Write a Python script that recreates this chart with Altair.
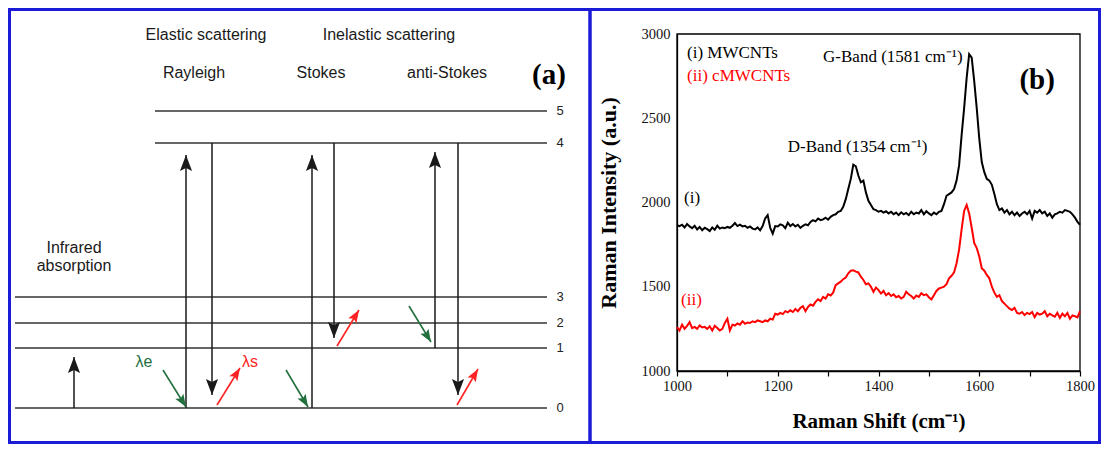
import math
import altair as alt
import pandas as pd

SANS = "Liberation Sans"
SERIF = "Liberation Serif"

# ---------------- Panel (b): Raman spectra ----------------
raman_shift = list(range(1000, 1805, 5))

mwcnt_intensity = [
    1865, 1860, 1868, 1852, 1872, 1858, 1848, 1862, 1840, 1855,
    1835, 1850, 1842, 1830, 1852, 1838, 1862, 1845, 1852, 1848,
    1855, 1850, 1862, 1878, 1860, 1868, 1858, 1862, 1850, 1858,
    1845, 1840, 1852, 1835, 1860, 1905, 1925, 1850, 1815, 1860,
    1858, 1870, 1865, 1848, 1880, 1860, 1872, 1858, 1868, 1850,
    1862, 1870, 1865, 1885, 1895, 1888, 1905, 1895, 1900, 1910,
    1898, 1915, 1925, 1930, 1945, 1950, 1975, 2020, 2080, 2140,
    2225, 2215, 2160, 2120, 2130, 2060, 2010, 1985, 1960, 1955,
    1945, 1950, 1940, 1948, 1935, 1945, 1930, 1940, 1925, 1942,
    1930, 1938, 1925, 1945, 1930, 1940, 1935, 1955, 1930, 1948,
    1935, 1925, 1940, 1930, 1945, 1950, 1990, 2040, 2050, 2060,
    2080, 2130, 2220, 2400, 2560, 2740, 2880, 2860, 2720, 2560,
    2380, 2240, 2180, 2140, 2130, 2105, 2050, 1990, 1955, 1965,
    1940, 1955, 1930, 1945, 1925, 1940, 1920, 1935, 1945, 1930,
    1950, 1905, 1950, 1940, 1955, 1935, 1945, 1920, 1935, 1910,
    1930, 1935, 1945, 1940, 1955, 1950, 1945, 1930, 1910, 1885,
    1868,
]

cmwcnt_intensity = [
    1260, 1240, 1275, 1250, 1268, 1290, 1255, 1262, 1250, 1270,
    1258, 1262, 1250, 1265, 1240, 1268, 1255, 1240, 1250, 1285,
    1310, 1240, 1275, 1270, 1282, 1275, 1295, 1280, 1288, 1285,
    1295, 1290, 1300, 1295, 1290, 1300, 1295, 1310, 1305, 1340,
    1335, 1345, 1338, 1355, 1348, 1360, 1350, 1368, 1355, 1375,
    1385, 1355, 1380, 1395, 1388, 1410, 1425, 1415, 1440, 1430,
    1455, 1448, 1465, 1510, 1520, 1530, 1545, 1555, 1580, 1595,
    1598, 1590, 1585, 1560, 1540, 1515, 1520, 1500, 1470, 1495,
    1480, 1460, 1475, 1450, 1462, 1445, 1455, 1438, 1445, 1430,
    1440, 1470, 1455, 1445, 1430, 1448, 1440, 1462, 1450, 1455,
    1438, 1425, 1450, 1475, 1490, 1495, 1500, 1515, 1550, 1565,
    1585, 1640, 1720, 1840, 1950, 1985, 1935, 1850, 1760, 1730,
    1680, 1610, 1595, 1570, 1550, 1500, 1465, 1440, 1450, 1415,
    1400, 1385, 1370, 1362, 1375, 1345, 1340, 1350, 1332, 1345,
    1338, 1350, 1320, 1345, 1335, 1340, 1355, 1325, 1340, 1330,
    1322, 1345, 1315, 1340, 1325, 1345, 1310, 1330, 1325, 1318,
    1355,
]

series_names = ["MWCNTs", "cMWCNTs"]
series_colors = ["#000000", "#ff0000"]

x_tick_values = [1000, 1100, 1200, 1300, 1400, 1500, 1600, 1700, 1800]
y_tick_values = [1000, 1500, 2000, 2500, 3000]

ann_text = ["(i) MWCNTs", "(ii) cMWCNTs", "G-Band (1581 cm\u207b\u00b9)",
            "D-Band (1354 cm\u207b\u00b9)", "(i)", "(ii)"]
ann_shift = [1020, 1020, 1290, 1220, 1014, 1008]
ann_intensity = [2887, 2748, 2865, 2331, 2027, 1421]
ann_color = ["#000000", "#ff0000", "#000000", "#000000", "#000000", "#ff0000"]

panel_b_label = ["(b)"]
panel_b_shift = [1715]
panel_b_intensity = [2727]

# ---------------- Panel (a): energy-level diagram ----------------
level_labels = ["0", "1", "2", "3", "4", "5"]
level_energy = [0, 60, 85, 111, 265, 297]
level_start = [15, 15, 15, 15, 155, 155]
level_end = [547, 547, 547, 547, 547, 547]

trans_x = [74, 186, 212, 312, 334, 435, 458]
trans_from = [0, 0, 265, 0, 265, 60, 265]
trans_to = [51, 253, 13, 253, 70, 256, 13]

photon_x1 = [163, 286, 409, 217, 337, 457]
photon_e1 = [38, 38, 102, 3, 62, 3]
photon_x2 = [186, 308, 431, 240, 359, 478]
photon_e2 = [1, 1, 66, 40, 98, 39]
photon_color = ["#23703f", "#23703f", "#23703f", "#ff2222", "#ff2222", "#ff2222"]

head_text = ["Elastic scattering", "Inelastic scattering", "Rayleigh", "Stokes",
             "anti-Stokes", "Infrared", "absorption"]
head_x = [206, 389, 194, 321, 447, 74, 74]
head_e = [373, 373, 335, 335, 335, 160, 142]

lambda_text = ["\u03bbe", "\u03bbs"]
lambda_x = [144, 250]
lambda_e = [46, 46]
lambda_color = ["#23703f", "#ff2222"]

panel_a_label = ["(a)"]
panel_a_x = [549]
panel_a_e = [333]

# ---------------- build panel (a) ----------------
WA, HA = 582, 436
xs_a = alt.Scale(domain=[8, 590], range=[0, WA], nice=False, zero=False)
ys_a = alt.Scale(domain=[-36, 400], nice=False, zero=False)

levels_df = pd.DataFrame({"label": level_labels, "e": level_energy,
                          "x": level_start, "x2": level_end})
trans_df = pd.DataFrame({"x": trans_x, "e": trans_from, "e2": trans_to})
photon_df = pd.DataFrame({"x": photon_x1, "e": photon_e1, "x2": photon_x2,
                          "e2": photon_e2, "col": photon_color})

ARROW = "M0,-1L-0.75,1L0,0.6L0.75,1Z"
BLACK_HEAD, COLOR_HEAD = 260, 160


def head_frame(x1s, e1s, x2s, e2s, cols, sz):
    rows = []
    r = math.sqrt(sz) / 2
    for x1, e1, x2, e2, c in zip(x1s, e1s, x2s, e2s, cols):
        dx, de = x2 - x1, e2 - e1
        length = math.hypot(dx, de)
        rows.append({"x": x2 - dx / length * r, "e": e2 - de / length * r,
                     "ang": math.degrees(math.atan2(dx, de)) % 360, "col": c})
    return pd.DataFrame(rows)


black_heads = head_frame(trans_x, trans_from, trans_x, trans_to,
                         ["#1a1a1a"] * len(trans_x), BLACK_HEAD)
color_heads = head_frame(photon_x1, photon_e1, photon_x2, photon_e2, photon_color, COLOR_HEAD)

one = pd.DataFrame({"a": [0]})


def xa(field="x"):
    return alt.X(f"{field}:Q", scale=xs_a, axis=None)


def ya(field="e"):
    return alt.Y(f"{field}:Q", scale=ys_a, axis=None)


frame_a = alt.Chart(one).mark_rect(fillOpacity=0, stroke="#1c1cd6", strokeWidth=3).encode(
    x=alt.value(1.5), x2=alt.value(WA), y=alt.value(1.5), y2=alt.value(HA - 1.5))

levels = alt.Chart(levels_df).mark_rule(color="#333333", strokeWidth=1.7).encode(
    x=xa(), x2="x2:Q", y=ya())

level_txt = alt.Chart(levels_df).mark_text(font=SANS, fontSize=13, color="#222",
                                           align="center", baseline="middle", dx=13).encode(
    x=xa("x2"), y=ya(), text="label:N")

trans = alt.Chart(trans_df).mark_rule(color="#1a1a1a", strokeWidth=1.5).encode(
    x=xa(), y=ya(), y2="e2:Q")

photons = alt.Chart(photon_df).mark_rule(strokeWidth=1.6).encode(
    x=xa(), x2="x2:Q", y=ya(), y2="e2:Q", color=alt.Color("col:N", scale=None))

heads_black = alt.Chart(black_heads).mark_point(
    shape=ARROW, filled=True, opacity=1, size=BLACK_HEAD, strokeWidth=0).encode(
    x=xa(), y=ya(), angle=alt.Angle("ang:Q", scale=None), color=alt.Color("col:N", scale=None))

heads_color = alt.Chart(color_heads).mark_point(
    shape=ARROW, filled=True, opacity=1, size=COLOR_HEAD, strokeWidth=0).encode(
    x=xa(), y=ya(), angle=alt.Angle("ang:Q", scale=None), color=alt.Color("col:N", scale=None))

head_df = pd.DataFrame({"t": head_text, "x": head_x, "e": head_e})
heads_txt = alt.Chart(head_df).mark_text(font=SANS, fontSize=16, color="#1a1a1a",
                                         align="center", baseline="middle").encode(
    x=xa(), y=ya(), text="t:N")

lam_df = pd.DataFrame({"t": lambda_text, "x": lambda_x, "e": lambda_e, "col": lambda_color})
lam_txt = alt.Chart(lam_df).mark_text(font=SANS, fontSize=16, align="center",
                                      baseline="middle").encode(
    x=xa(), y=ya(), text="t:N", color=alt.Color("col:N", scale=None))

pa_df = pd.DataFrame({"t": panel_a_label, "x": panel_a_x, "e": panel_a_e})
pa_txt = alt.Chart(pa_df).mark_text(font=SERIF, fontSize=29, fontWeight="bold", color="black",
                                    align="center", baseline="middle").encode(
    x=xa(), y=ya(), text="t:N")

panel_a = alt.layer(frame_a, levels, level_txt, trans, photons, heads_black, heads_color,
                    heads_txt, lam_txt, pa_txt).properties(width=WA, height=HA)

# ---------------- build panel (b) ----------------
WB, HB = 403, 337
n = len(raman_shift)
spec_df = pd.DataFrame({
    "shift": raman_shift * 2,
    "intensity": mwcnt_intensity + cmwcnt_intensity,
    "sample": [series_names[0]] * n + [series_names[1]] * n,
    "col": [series_colors[0]] * n + [series_colors[1]] * n,
})

axis_x = alt.Axis(values=x_tick_values, format="d",
                  labelExpr="datum.value % 200 == 0 ? datum.label : ''",
                  title="Raman Shift (cm\u207b\u00b9)", titleFont=SERIF, titleFontSize=21,
                  titleFontWeight="bold", titleColor="black", titleY=50,
                  titleBaseline="middle",
                  labelFont=SERIF, labelFontSize=14.5, labelColor="#111", labelPadding=3,
                  labelFlush=False, domainColor="black", domainWidth=1.3,
                  tickColor="black", tickSize=5, tickWidth=1.2, grid=False)
axis_y = alt.Axis(values=y_tick_values, format="d",
                  title="Raman Intensity (a.u.)", titleFont=SERIF, titleFontSize=22,
                  titleFontWeight="bold", titleColor="black", titleAngle=270,
                  titleX=-69, titleY=HB / 2, titleAlign="center", titleBaseline="middle",
                  labelFont=SERIF, labelFontSize=14.5, labelColor="#111", labelPadding=7,
                  labelFlush=False, domainColor="black", domainWidth=1.3,
                  ticks=False, grid=False)

xs_b = alt.Scale(domain=[1000, 1800], nice=False, zero=False)
ys_b = alt.Scale(domain=[1000, 3000], nice=False, zero=False)
x_b = alt.X("shift:Q", scale=xs_b, axis=axis_x)
y_b = alt.Y("intensity:Q", scale=ys_b, axis=axis_y)

frame_b_blue = alt.Chart(one).mark_rect(fillOpacity=0, stroke="#1c1cd6", strokeWidth=3).encode(
    x=alt.value(-87), x2=alt.value(422.5), y=alt.value(-24.5), y2=alt.value(408.5))
frame_b = alt.Chart(one).mark_rect(fillOpacity=0, stroke="black", strokeWidth=1.3).encode(
    x=alt.value(0), x2=alt.value(WB), y=alt.value(0), y2=alt.value(HB))

lines = alt.Chart(spec_df).mark_line(strokeWidth=2).encode(
    x=x_b, y=y_b, detail="sample:N", color=alt.Color("col:N", scale=None))

ann_df = pd.DataFrame({"t": ann_text, "shift": ann_shift, "intensity": ann_intensity,
                       "col": ann_color})
ann = alt.Chart(ann_df).mark_text(font=SERIF, fontSize=17, align="left",
                                  baseline="middle").encode(
    x=x_b, y=y_b, text="t:N", color=alt.Color("col:N", scale=None))

pb_df = pd.DataFrame({"t": panel_b_label, "shift": panel_b_shift,
                      "intensity": panel_b_intensity})
pb = alt.Chart(pb_df).mark_text(font=SERIF, fontSize=29, fontWeight="bold", color="black",
                                align="center", baseline="middle").encode(
    x=x_b, y=y_b, text="t:N")

panel_b = alt.layer(frame_b_blue, frame_b, lines, ann, pb).properties(width=WB, height=HB)

spacer = alt.Chart(pd.DataFrame({"t": [""]})).mark_text().encode(
    text="t:N").properties(width=WB, height=26)

right = alt.vconcat(spacer, panel_b, spacing=0, bounds="flush")

chart = alt.hconcat(panel_a, right, spacing=87, bounds="flush").properties(
    padding=0).configure_view(strokeWidth=0)

chart.save("out.html", embed_options={"renderer": "svg", "actions": False})
